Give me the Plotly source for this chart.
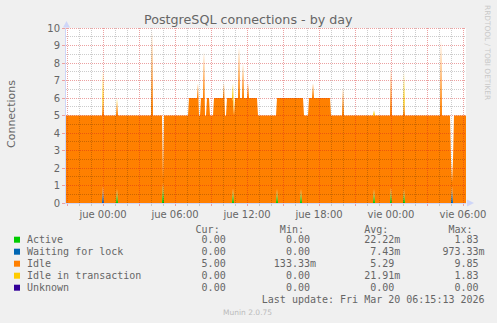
import math
import pandas as pd
import plotly.graph_objects as go

# ---------------- data (5-minute samples, change points of each series) ----------------
start_time = "2026-03-18 20:55"
end_time = "2026-03-20 06:15"

series_names = ["Active", "Waiting for lock", "Idle", "Idle in transaction", "Unknown"]
series_colors = ["#00CC00", "#0066B3", "#FF8000", "#FFCC00", "#330099"]

active_t = ["2026-03-18 20:55", "2026-03-19 01:10", "2026-03-19 01:15", "2026-03-19 05:00",
            "2026-03-19 05:05", "2026-03-19 10:50", "2026-03-19 10:55", "2026-03-19 14:30",
            "2026-03-19 14:35", "2026-03-19 16:30", "2026-03-19 16:35", "2026-03-19 22:35",
            "2026-03-19 22:40", "2026-03-20 00:00", "2026-03-20 00:05", "2026-03-20 01:05",
            "2026-03-20 01:10"]
active_v = [0, 0.8, 0, 1.2, 0, 0.84, 0, 0.8, 0, 0.8, 0, 0.8, 0, 0.9, 0, 0.8, 0]

waiting_t = ["2026-03-18 20:55", "2026-03-19 00:00", "2026-03-19 00:05",
             "2026-03-20 05:05", "2026-03-20 05:10"]
waiting_v = [0, 0.97, 0, 0.97, 0]

idle_t = ["2026-03-18 20:55", "2026-03-19 04:05", "2026-03-19 04:10", "2026-03-19 05:00",
          "2026-03-19 05:05", "2026-03-19 07:10", "2026-03-19 07:55", "2026-03-19 08:00",
          "2026-03-19 08:10", "2026-03-19 08:25", "2026-03-19 08:30", "2026-03-19 08:40",
          "2026-03-19 08:55", "2026-03-19 09:15", "2026-03-19 10:05", "2026-03-19 10:10",
          "2026-03-19 10:20", "2026-03-19 10:50", "2026-03-19 11:00", "2026-03-19 11:20",
          "2026-03-19 11:25", "2026-03-19 11:40", "2026-03-19 11:45", "2026-03-19 12:05",
          "2026-03-19 12:10", "2026-03-19 12:55", "2026-03-19 14:30", "2026-03-19 14:35",
          "2026-03-19 16:30", "2026-03-19 16:35", "2026-03-19 16:45", "2026-03-19 17:10",
          "2026-03-19 17:30", "2026-03-19 17:35", "2026-03-19 19:00", "2026-03-19 20:00",
          "2026-03-19 20:05", "2026-03-19 22:35", "2026-03-19 22:40", "2026-03-20 00:00",
          "2026-03-20 00:05", "2026-03-20 04:10", "2026-03-20 04:15", "2026-03-20 05:00",
          "2026-03-20 05:05", "2026-03-20 05:10", "2026-03-20 05:15"]
idle_v = [5, 9.85, 5, 0.13,
          5, 6, 6.84, 5,
          6, 8.65, 5, 6,
          5, 6, 6.87, 5,
          6, 5, 6, 8.93,
          6, 7.98, 6, 6.84,
          6, 5, 5.2, 6,
          5.2, 6, 5, 6,
          6.84, 6, 5, 6.6,
          5, 4.2, 5, 6.8,
          5, 9.3, 5, 2.5,
          0.2, 2.5, 5]

idle_tx_t = ["2026-03-18 20:55", "2026-03-19 00:00", "2026-03-19 00:05", "2026-03-19 01:10",
             "2026-03-19 01:15", "2026-03-19 10:50", "2026-03-19 10:55", "2026-03-19 22:35",
             "2026-03-19 22:40", "2026-03-20 01:05", "2026-03-20 01:10"]
idle_tx_v = [0, 1.6, 0, 0.2, 0, 1.0, 0, 0.3, 0, 1.7, 0]

unknown_t = ["2026-03-18 20:55"]
unknown_v = [0]

# x tick labels (every 3 h, labelled every 6 h)
x_tickvals = ["2026-03-18 21:00", "2026-03-19 00:00", "2026-03-19 03:00", "2026-03-19 06:00",
              "2026-03-19 09:00", "2026-03-19 12:00", "2026-03-19 15:00", "2026-03-19 18:00",
              "2026-03-19 21:00", "2026-03-20 00:00", "2026-03-20 03:00", "2026-03-20 06:00"]
x_ticktext = ["", "jue 00:00", "", "jue 06:00", "", "jue 12:00", "", "jue 18:00",
              "", "vie 00:00", "", "vie 06:00"]
y_max = 10

# legend table values
cur_vals = ["0.00", "0.00", "5.00", "0.00", "0.00"]
min_vals = ["0.00", "0.00", "133.33m", "0.00", "0.00"]
avg_vals = ["22.22m", "7.43m", "5.29", "21.91m", "0.00"]
max_vals = ["1.83", "973.33m", "9.85", "1.83", "0.00"]
last_update = "Last update: Fri Mar 20 06:15:13 2026"
title_text = "PostgreSQL connections - by day"
y_title = "Connections"
side_text = "RRDTOOL / TOBI OETIKER"
footer_text = "Munin 2.0.75"

# ---------------- build ----------------
grid = pd.date_range(start_time, end_time, freq="5min")


def expand(times, values):
    s = pd.Series(values, index=pd.to_datetime(times))
    return s.reindex(grid, method="ffill").values


series_data = [expand(active_t, active_v), expand(waiting_t, waiting_v),
               expand(idle_t, idle_v), expand(idle_tx_t, idle_tx_v),
               expand(unknown_t, unknown_v)]

W, H = 497, 323
L, R, T, B = 66, 31, 28, 120
PW, PH = W - L - R, H - T - B

FONT = "DejaVu Sans"
MONO = "DejaVu Sans Mono"
TXT = "#666666"
MAJOR = "#EBA0A0"
MINOR = "#C8C8C8"
MAJOR_OVER = "rgba(210,30,30,0.42)"
MINOR_OVER = "rgba(0,0,0,0.2)"
AXIS = "#CFD6F8"


def P(px, py):
    return (px - L) / PW, (H - B - py) / PH


fig = go.Figure()
for name, color, vals in zip(series_names, series_colors, series_data):
    fig.add_trace(go.Scatter(x=grid, y=vals, name=name, mode="lines", stackgroup="conn",
                             line=dict(width=0, shape="linear", color=color),
                             fillcolor=color, hoverinfo="skip"))

annotations = []


def ann(px, py, text, size, color=TXT, family=FONT, xanchor="center", angle=0):
    x, y = P(px, py)
    annotations.append(dict(x=x, y=y, xref="paper", yref="paper", text=text, showarrow=False,
                            xanchor=xanchor, yanchor="middle", textangle=angle, borderpad=0,
                            font=dict(family=family, size=size, color=color)))


ann(248.7, 19.5, title_text, 12.7)
ann(11, 114, y_title, 11, angle=-90)
ann(488, 52, side_text, 7.4, color="#C8C8C8", angle=90)
ann(247.8, 312.3, footer_text, 7.5, color="#BBBBBB")


def fmt(v):
    if v.endswith("m"):
        return v[:-1].rjust(6) + "m"
    return v.rjust(6) + " "


NB = "\u00a0"
header = " " * 28 + "Cur:" + " " * 10 + "Min:" + " " * 10 + "Avg:" + " " * 10 + "Max:"
ann(26, 229, header.replace(" ", NB), 10, family=MONO, xanchor="left")
shapes = []
for i, name in enumerate(series_names):
    row_y = 239.7 + 12 * i
    line = (name.ljust(27) + fmt(cur_vals[i]) + " " * 7 + fmt(min_vals[i]) + " " * 7
            + fmt(avg_vals[i]) + " " * 7 + fmt(max_vals[i]))
    ann(26, row_y, line.replace(" ", NB), 10, family=MONO, xanchor="left")
    x0, y0 = P(14, row_y + 3)
    x1, y1 = P(20, row_y - 3)
    shapes.append(dict(type="rect", xref="paper", yref="paper", x0=x0, y0=y0, x1=x1, y1=y1,
                       fillcolor=series_colors[i], line=dict(width=0)))
ann(26, 299.7, (" " * 39 + last_update).replace(" ", NB), 10, family=MONO, xanchor="left")

# grid drawn above the areas (rrdtool draws its grid over the graph), crisp on pixels
t0 = pd.Timestamp(start_time)
t1 = pd.Timestamp(end_time)
px_per_min = PW / ((t1 - t0).total_seconds() / 60)
major_x = set(pd.to_datetime(x_tickvals))
for t in pd.date_range("2026-03-18 21:00", end_time, freq="1h"):
    col = MAJOR_OVER if t in major_x else MINOR_OVER
    shapes.append(dict(type="line", layer="above", xref="x", xsizemode="pixel", xanchor=t,
                       x0=0.5, x1=0.5, yref="paper", y0=0, y1=1,
                       line=dict(color=col, width=1, dash="1px,1px")))
k = 1
while k * 0.5 <= y_max:
    v = k * 0.5
    py = (H - B) - v * PH / y_max
    off = py - (math.floor(py) + 0.5)
    col = MAJOR_OVER if v == int(v) else MINOR_OVER
    shapes.append(dict(type="line", layer="above", yref="y", ysizemode="pixel", yanchor=v,
                       y0=off, y1=off, xref="paper", x0=0, x1=1,
                       line=dict(color=col, width=1, dash="1px,1px")))
    k += 1

# axis arrows
def tri(pts):
    s = ""
    for k2, (px, py) in enumerate(pts):
        x, y = P(px, py)
        s += ("M" if k2 == 0 else "L") + f"{x},{y} "
    return s + "Z"


shapes.append(dict(type="path", xref="paper", yref="paper", path=tri([(63, 27.5), (70, 27.5), (66.5, 21)]),
                   fillcolor=AXIS, line=dict(width=0)))
shapes.append(dict(type="path", xref="paper", yref="paper", path=tri([(467, 199.5), (467, 206.5), (474, 203)]),
                   fillcolor=AXIS, line=dict(width=0)))

fig.update_layout(
    width=W, height=H, margin=dict(l=L, r=R, t=T, b=B, pad=0),
    paper_bgcolor="#F0F0F0", plot_bgcolor="#FFFFFF",
    showlegend=False, hovermode=False,
    annotations=annotations, shapes=shapes,
    xaxis=dict(type="date", range=[start_time, end_time], tickmode="array",
               tickvals=x_tickvals, ticktext=x_ticktext,
               showgrid=False,
               ticks="outside", ticklen=2, tickcolor=MAJOR,
               tickfont=dict(family=FONT, size=10, color=TXT),
               showline=True, linecolor=AXIS, linewidth=1, zeroline=False,
               minor=dict(tickmode="linear", tick0="2026-03-19 00:00", dtick=3600000,
                          showgrid=False, ticks="outside", ticklen=2, tickcolor=MINOR),
               fixedrange=True),
    yaxis=dict(range=[0, y_max], tickmode="linear", tick0=0, dtick=1,
               showgrid=False,
               ticks="outside", ticklen=3, tickcolor=MAJOR,
               tickfont=dict(family=FONT, size=10, color=TXT),
               showline=True, linecolor=AXIS, linewidth=1, zeroline=False,
               fixedrange=True),
)

fig.write_html("out.html")
